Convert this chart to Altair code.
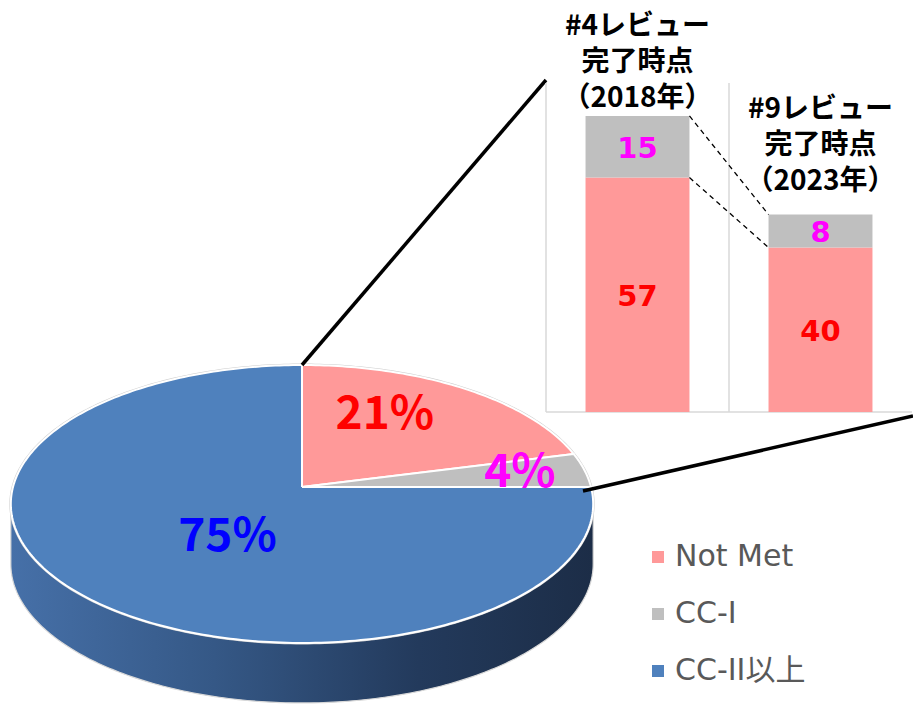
import numpy as np
import pandas as pd
import altair as alt

# ---------------- data ----------------
pie_categories = ["Not Met", "CC-I", "CC-II以上"]
pie_percent = [21, 4, 75]
pie_colors = ["#FF9999", "#BFBFBF", "#4F81BD"]
pie_label_colors = ["#FF0000", "#FF00FF", "#0000FF"]

bar_titles = ["#4レビュー\n完了時点\n（2018年）", "#9レビュー\n完了時点\n（2023年）"]
bar_not_met = [57, 40]
bar_cc1 = [15, 8]
bar_segment_colors = ["#FF9999", "#BFBFBF"]
bar_value_colors = ["#FF0000", "#FF00FF"]

# ---------------- layout ----------------
W, H = 913, 705
CX, CY = 302, 487          # pie apex on screen
RX, RY = 289, 136.9        # ellipse radii
PERSP = 0.1222             # perspective factor
DEPTH = 60                 # pie thickness
LABEL_R = [0.64, 0.77, 0.43]
LABEL_THETA = [28.6, 82.5, 215.0]
INSET_X0, INSET_X1, INSET_TOP, INSET_BASE = 546, 912, 83, 412
AXIS_MAX = 80
BAR_HALF = 0.284
TITLE_GAP = [21.6, 25.4]   # gap from stack top to first title line (value units)


def proj(theta_deg, r=1.0, dy=0.0):
    t = np.radians(theta_deg)
    u = r * np.sin(t)
    v = -r * np.cos(t)
    s = 1.0 / (1.0 - PERSP * v)
    return CX + RX * u * s, CY + RY * v * s + dy


# pie slices polygons
rows = []
start = 0.0
for cat, pct in zip(pie_categories, pie_percent):
    end = start + pct * 3.6
    th = np.linspace(start, end, max(3, int(abs(end - start)) + 2))
    pts = [(CX, CY)] + [proj(t) for t in th] + [(CX, CY)]
    for i, (x, y) in enumerate(pts):
        rows.append({"cat": cat, "i": i, "x": x, "y": y})
    start = end
slice_df = pd.DataFrame(rows)

# side polygon
th_r = np.degrees(np.arccos(-PERSP))
th_l = 360 - th_r
th = np.linspace(th_r, th_l, 200)
top_pts = [proj(t) for t in th]
bot_pts = [proj(t, dy=DEPTH) for t in th[::-1]]
side_pts = top_pts + bot_pts + [top_pts[0]]
side_df = pd.DataFrame([{"i": i, "x": x, "y": y} for i, (x, y) in enumerate(side_pts)])

# rim outline
th = np.linspace(0, 360, 361)
rim_df = pd.DataFrame([{"i": i, "x": proj(t)[0], "y": proj(t)[1]} for i, t in enumerate(th)])

# pie labels
lab_rows = []
for k, pct in enumerate(pie_percent):
    x, y = proj(LABEL_THETA[k], LABEL_R[k])
    lab_rows.append({"x": x, "y": y, "t": f"{pct}%", "c": pie_label_colors[k]})
pie_lab_df = pd.DataFrame(lab_rows)

# connectors
p_top = proj(0)
p_right = proj(90)
conn_df = pd.DataFrame([
    {"x": p_top[0], "y": p_top[1], "x2": INSET_X0, "y2": INSET_TOP - 3},
    {"x": p_right[0] - 8, "y": p_right[1] + 4, "x2": W, "y2": INSET_BASE + 4},
])

xs = alt.Scale(domain=[0, W], nice=False, zero=False)
ys = alt.Scale(domain=[H, 0], nice=False, zero=False)
X = lambda f: alt.X(f, type="quantitative", scale=xs, axis=None)
Y = lambda f: alt.Y(f, type="quantitative", scale=ys, axis=None)

side = alt.Chart(side_df).mark_line(
    fill=alt.Gradient(gradient="linear", x1=0, y1=0, x2=1, y2=0,
                      stops=[alt.GradientStop(color="#4670A8", offset=0),
                             alt.GradientStop(color="#355886", offset=0.35),
                             alt.GradientStop(color="#233A5C", offset=0.7),
                             alt.GradientStop(color="#1C2D47", offset=1)]),
    stroke="#D9D9D9", strokeWidth=1.2,
).encode(x=X("x"), y=Y("y"), order=alt.Order("i:Q"))

rim = alt.Chart(rim_df).mark_line(stroke="#D0D0D0", strokeWidth=3).encode(
    x=X("x"), y=Y("y"), order=alt.Order("i:Q"))

slices = alt.Chart(slice_df).mark_line(stroke="white", strokeWidth=2, strokeJoin="round").encode(
    x=X("x"), y=Y("y"), order=alt.Order("i:Q"), detail="cat:N",
    fill=alt.Fill("cat:N", scale=alt.Scale(domain=pie_categories, range=pie_colors),
                  legend=alt.Legend(title=None, orient="none", legendX=643, legendY=542,
                                    symbolType="square", symbolSize=144, symbolStrokeWidth=0,
                                    labelFont="DejaVu Sans, Noto Sans CJK JP", labelFontSize=30,
                                    labelColor="#595959", rowPadding=27, labelOffset=2,
                                    padding=0)),
)

pie_labels = alt.Chart(pie_lab_df).mark_text(
    font="Noto Sans CJK JP", fontWeight="bold", fontSize=46, baseline="middle", align="center"
).encode(x=X("x"), y=Y("y"), text="t:N", color=alt.Color("c:N", scale=None))

connectors = alt.Chart(conn_df).mark_rule(color="black", strokeWidth=3.5).encode(
    x=X("x"), y=Y("y"), x2="x2", y2="y2")

pie_group = alt.layer(side, rim, slices, pie_labels, connectors)

# ---------------- bar inset ----------------
kx = (INSET_X1 - INSET_X0) / 2.0
bx0 = -INSET_X0 / kx
bxs = alt.Scale(domain=[bx0, bx0 + W / kx], nice=False, zero=False)
ky = (INSET_BASE - INSET_TOP) / AXIS_MAX
by0 = -(H - INSET_BASE) / ky
bys = alt.Scale(domain=[by0, by0 + H / ky], nice=False, zero=False)
BX = lambda f: alt.X(f, type="quantitative", scale=bxs, axis=None)
BY = lambda f: alt.Y(f, type="quantitative", scale=bys, axis=None)

seg_rows, val_rows, title_rows = [], [], []
for k in range(len(bar_titles)):
    pos = k + 0.5
    segs = [bar_not_met[k], bar_cc1[k]]
    base = 0
    for j, v in enumerate(segs):
        seg_rows.append({"xa": pos - BAR_HALF, "xb": pos + BAR_HALF, "ya": base, "yb": base + v,
                         "c": bar_segment_colors[j]})
        val_rows.append({"x": pos, "y": base + v / 2.0, "t": str(v), "c": bar_value_colors[j]})
        base += v
    title_rows.append({"x": pos, "y": base + TITLE_GAP[k], "t": bar_titles[k]})
seg_df = pd.DataFrame(seg_rows)
val_df = pd.DataFrame(val_rows)
title_df = pd.DataFrame(title_rows)

grid_df = pd.DataFrame([
    {"x": 0, "x2": 0, "y": 0, "y2": AXIS_MAX},
    {"x": 1, "x2": 1, "y": 0, "y2": AXIS_MAX},
    {"x": 0, "x2": 2, "y": 0, "y2": 0},
])
tot = [a + b for a, b in zip(bar_not_met, bar_cc1)]
series_df = pd.DataFrame([
    {"x": 0.5 + BAR_HALF, "x2": 1.5 - BAR_HALF, "y": tot[0], "y2": tot[1]},
    {"x": 0.5 + BAR_HALF, "x2": 1.5 - BAR_HALF, "y": bar_not_met[0], "y2": bar_not_met[1]},
])

grid = alt.Chart(grid_df).mark_rule(color="#D9D9D9", strokeWidth=1.5).encode(
    x=BX("x"), y=BY("y"), x2="x2", y2="y2")
bars = alt.Chart(seg_df).mark_rect().encode(
    x=BX("xa"), x2="xb", y=BY("ya"), y2="yb", color=alt.Color("c:N", scale=None))
series = alt.Chart(series_df).mark_rule(color="black", strokeWidth=1.3, strokeDash=[5, 4]).encode(
    x=BX("x"), y=BY("y"), x2="x2", y2="y2")
values = alt.Chart(val_df).mark_text(
    font="DejaVu Sans", fontWeight="bold", fontSize=29, baseline="middle", align="center", dy=2
).encode(x=BX("x"), y=BY("y"), text="t:N", color=alt.Color("c:N", scale=None))
titles = alt.Chart(title_df).mark_text(
    font="Noto Sans CJK JP", fontWeight="bold", fontSize=28, baseline="middle", align="center",
    lineBreak="\n", lineHeight=36, color="black"
).encode(x=BX("x"), y=BY("y"), text="t:N")

bar_group = alt.layer(grid, bars, series, values, titles)

chart = alt.layer(pie_group, bar_group).resolve_scale(
    x="independent", y="independent"
).properties(
    width=W, height=H, padding=0, autosize="none", background="white"
).configure_view(stroke=None)

chart.save("out.html", embed_options={"renderer": "svg", "actions": False})
